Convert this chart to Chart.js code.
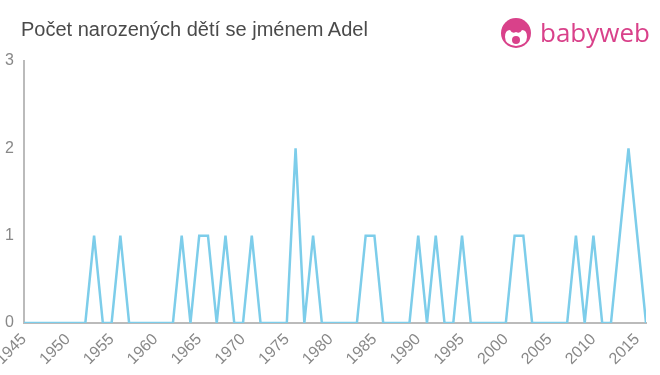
<!DOCTYPE html>
<html>
<head>
<meta charset="utf-8">
<script src="https://cdn.jsdelivr.net/npm/chart.js@4/dist/chart.umd.min.js"></script>
<style>
  body { margin: 0; background: #fff; }
  #wrap { position: relative; width: 660px; height: 375px; overflow: hidden; }
  #title { position: absolute; left: 21px; top: 18px; font: 20px "Liberation Sans", Arial, sans-serif; color: #4a4a4a; }
  #logo { position: absolute; left: 500px; top: 17px; height: 32px; }
  #logo .txt { position: absolute; left: 40px; top: -3px; font: 26px "Open Sans", sans-serif; color: #d9418a; }
  canvas { position: absolute; left: 0; top: 0; }
</style>
</head>
<body>
<div id="wrap">
  <canvas id="myLineChart" width="660" height="375"></canvas>
  <div id="title">Počet narozených dětí se jménem Adel</div>
  <div id="logo">
    <svg width="32" height="32" viewBox="0 0 32 32">
      <circle cx="16" cy="16" r="15" fill="#d9418a"/>
      <path d="M5 20 Q5 13 10 13 Q12 17 16 15 Q20 17 22 13 Q27 13 27 20 Q27 28 16 29 Q5 28 5 20 Z" fill="#fff"/>
      <circle cx="16" cy="23" r="4" fill="#d9418a"/>
    </svg>
    <span class="txt">babyweb</span>
  </div>
</div>
<script>
// years shown on the chart and how many children got the name each year
var years = [];
for (var y = 1945; y <= 2016; y++) years.push(y);

var counts = [
  0, 0, 0, 0, 0, 0, 0, 0, 1, 0,   // 1945-1954
  0, 1, 0, 0, 0, 0, 0, 0, 1, 0,   // 1955-1964
  1, 1, 0, 1, 0, 0, 1, 0, 0, 0,   // 1965-1974
  0, 2, 0, 1, 0, 0, 0, 0, 0, 1,   // 1975-1984
  1, 0, 0, 0, 0, 1, 0, 1, 0, 0,   // 1985-1994
  1, 0, 0, 0, 0, 0, 1, 1, 0, 0,   // 1995-2004
  0, 0, 0, 1, 0, 1, 0, 0, 1, 2,   // 2005-2014
  1, 0                             // 2015-2016
];

var tickYears = [1945, 1950, 1955, 1960, 1965, 1970, 1975, 1980, 1985, 1990, 1995, 2000, 2005, 2010, 2015];
var yTicks = [0, 1, 2, 3];

var points = years.map(function (yr, i) { return { x: yr, y: counts[i] }; });

var ctx = document.getElementById("myLineChart").getContext("2d");
var myLineChart = new Chart(ctx, {
  type: 'line',
  data: {
    datasets: [{
      data: points,
      borderColor: '#7dcdea',
      borderWidth: 2.5,
      pointRadius: 0,
      tension: 0,
      fill: false
    }]
  },
  options: {
    responsive: false,
    animation: false,
    layout: { padding: { top: 61, right: 14, left: 0, bottom: 0 } },
    plugins: { legend: { display: false }, tooltip: { enabled: false } },
    scales: {
      x: {
        type: 'linear',
        min: 1945,
        max: 2016,
        afterBuildTicks: function (s) { s.ticks = tickYears.map(function (v) { return { value: v }; }); },
        afterFit: function (s) { s.height = 52; s.paddingLeft = 0; s.paddingRight = 0; },
        grid: { display: false, drawTicks: true, tickLength: 5, tickColor: '#bbb' },
        border: { color: '#bbb', width: 2 },
        ticks: {
          autoSkip: false,
          minRotation: 45,
          maxRotation: 45,
          padding: 2,
          color: '#888',
          font: { family: 'Liberation Sans', size: 16 },
          callback: function (v) { return String(v); }
        }
      },
      y: {
        min: 0,
        max: 3,
        afterBuildTicks: function (s) { s.ticks = yTicks.map(function (v) { return { value: v }; }); },
        afterFit: function (s) { s.width = 24; s.paddingTop = 0; },
        grid: { display: false, drawTicks: false },
        border: { color: '#bbb', width: 2 },
        ticks: {
          padding: 10,
          color: '#888',
          font: { family: 'Liberation Sans', size: 16 }
        }
      }
    }
  }
});
</script>
</body>
</html>
